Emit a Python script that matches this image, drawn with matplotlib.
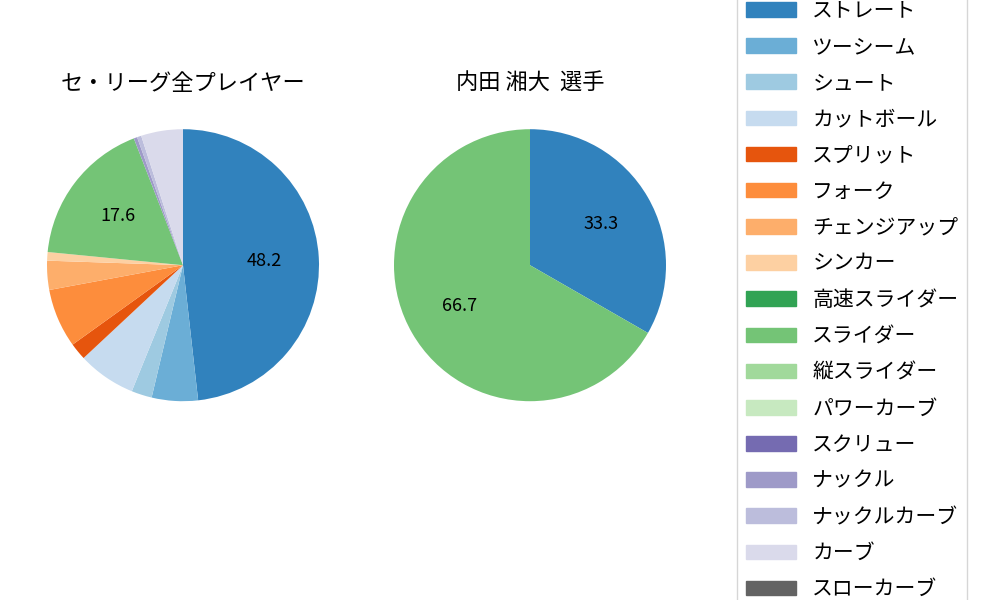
import matplotlib
matplotlib.use("Agg")
import matplotlib.pyplot as plt
import numpy as np

plt.rcParams['font.family'] = ['Noto Sans CJK JP', 'DejaVu Sans']

categories = ["ストレート","ツーシーム","シュート","カットボール","スプリット","フォーク",
              "チェンジアップ","シンカー","高速スライダー","スライダー","縦スライダー",
              "パワーカーブ","スクリュー","ナックル","ナックルカーブ","カーブ","スローカーブ"]
league = [47.5,5.4,2.4,6.8,2.0,6.9,3.4,1.0,0.0,17.3,0.0,0.0,0.0,0.4,0.5,4.9,0.0]
player = [33.3,0,0,0,0,0,0,0,0,66.7,0,0,0,0,0,0,0]
titles = ["セ・リーグ全プレイヤー", "内田 湘大  選手"]

cmap = plt.get_cmap('tab20c')
colors = [cmap(i) for i in range(len(categories))]

fig = plt.figure(figsize=(10, 6), dpi=100)
ax1 = fig.add_axes([0.013, 0.273, 0.34, 0.57])
ax2 = fig.add_axes([0.36, 0.273, 0.34, 0.57])

def ap(p):
    return f"{p:.1f}" if p >= 10 else ""

for ax, vals, t in [(ax1, league, titles[0]), (ax2, player, titles[1])]:
    v = np.array(vals, dtype=float)
    idx = [i for i in range(len(v)) if v[i] > 0]
    ax.pie(v[idx], colors=[colors[i] for i in idx], startangle=90, counterclock=False,
           autopct=ap, pctdistance=0.6, textprops={'fontsize': 13})
    ax.set_title(t, fontsize=16, pad=4)
    ax.set_aspect('equal')

handles = [plt.Rectangle((0, 0), 1, 1, color=c) for c in colors]
fig.legend(handles, categories, loc='center left', bbox_to_anchor=(0.727, 0.5),
           fontsize=15, frameon=True, handlelength=2.4, labelspacing=0.68)
fig.savefig("out.png")
